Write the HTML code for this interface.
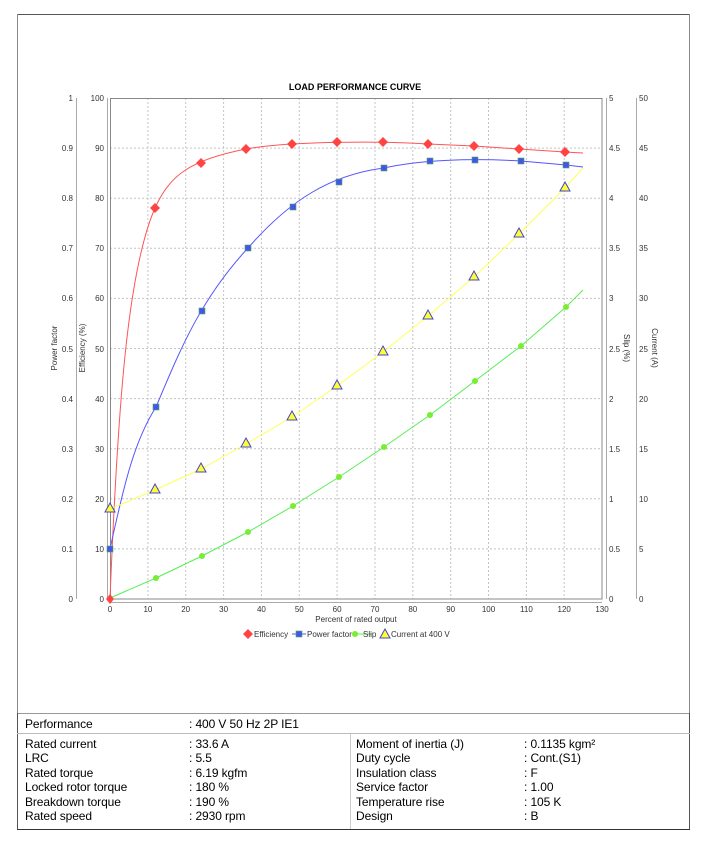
<!DOCTYPE html>
<html><head><meta charset="utf-8"><style>
html,body{margin:0;padding:0;background:#fff;}
body{width:706px;height:845px;position:relative;overflow:hidden;font-family:"Liberation Sans",Arial,sans-serif;}
.t{position:absolute;font-size:12px;color:#000;white-space:nowrap;letter-spacing:-0.1px;}
</style></head><body>
<svg width="706" height="845" style="position:absolute;left:0;top:0" font-family="Liberation Sans, Arial, sans-serif">
<line x1="17.5" y1="14.5" x2="689.5" y2="14.5" stroke="#555" stroke-width="1"/>
<line x1="17.5" y1="14" x2="17.5" y2="713" stroke="#888" stroke-width="1"/>
<line x1="689.5" y1="14" x2="689.5" y2="713" stroke="#888" stroke-width="1"/>
<text x="355" y="90" font-size="9" font-weight="bold" text-anchor="middle">LOAD PERFORMANCE CURVE</text>
<g stroke="#c4c4c4" stroke-width="1" stroke-dasharray="2,2">
<line x1="147.9" y1="98" x2="147.9" y2="599"/><line x1="185.7" y1="98" x2="185.7" y2="599"/>
<line x1="223.6" y1="98" x2="223.6" y2="599"/><line x1="261.4" y1="98" x2="261.4" y2="599"/>
<line x1="299.3" y1="98" x2="299.3" y2="599"/><line x1="337.1" y1="98" x2="337.1" y2="599"/>
<line x1="375" y1="98" x2="375" y2="599"/><line x1="412.8" y1="98" x2="412.8" y2="599"/>
<line x1="450.7" y1="98" x2="450.7" y2="599"/><line x1="488.5" y1="98" x2="488.5" y2="599"/>
<line x1="526.4" y1="98" x2="526.4" y2="599"/><line x1="564.2" y1="98" x2="564.2" y2="599"/>
<line x1="110" y1="148.1" x2="602" y2="148.1"/><line x1="110" y1="198.2" x2="602" y2="198.2"/>
<line x1="110" y1="248.3" x2="602" y2="248.3"/><line x1="110" y1="298.4" x2="602" y2="298.4"/>
<line x1="110" y1="348.5" x2="602" y2="348.5"/><line x1="110" y1="398.6" x2="602" y2="398.6"/>
<line x1="110" y1="448.7" x2="602" y2="448.7"/><line x1="110" y1="498.8" x2="602" y2="498.8"/>
<line x1="110" y1="548.9" x2="602" y2="548.9"/>
</g>
<rect x="110.5" y="98.5" width="491.5" height="500.5" fill="none" stroke="#888" stroke-width="1"/>
<g stroke="#aaa" stroke-width="1">
<line x1="76.5" y1="98" x2="76.5" y2="599"/><line x1="107.5" y1="98" x2="107.5" y2="599"/>
<line x1="606.5" y1="98" x2="606.5" y2="599"/><line x1="636.5" y1="98" x2="636.5" y2="599"/>
<line x1="110" y1="602.5" x2="602" y2="602.5"/>
</g>
<g font-size="8" fill="#333" text-anchor="end">
<text x="73" y="101">1</text><text x="73" y="151">0.9</text><text x="73" y="201">0.8</text><text x="73" y="251">0.7</text><text x="73" y="301">0.6</text><text x="73" y="352">0.5</text><text x="73" y="402">0.4</text><text x="73" y="452">0.3</text><text x="73" y="502">0.2</text><text x="73" y="552">0.1</text><text x="73" y="602">0</text>
<text x="104" y="101">100</text><text x="104" y="151">90</text><text x="104" y="201">80</text><text x="104" y="251">70</text><text x="104" y="301">60</text><text x="104" y="352">50</text><text x="104" y="402">40</text><text x="104" y="452">30</text><text x="104" y="502">20</text><text x="104" y="552">10</text><text x="104" y="602">0</text>
</g>
<g font-size="8" fill="#333" text-anchor="start">
<text x="609" y="101">5</text><text x="609" y="151">4.5</text><text x="609" y="201">4</text><text x="609" y="251">3.5</text><text x="609" y="301">3</text><text x="609" y="352">2.5</text><text x="609" y="402">2</text><text x="609" y="452">1.5</text><text x="609" y="502">1</text><text x="609" y="552">0.5</text><text x="609" y="602">0</text>
<text x="639" y="101">50</text><text x="639" y="151">45</text><text x="639" y="201">40</text><text x="639" y="251">35</text><text x="639" y="301">30</text><text x="639" y="352">25</text><text x="639" y="402">20</text><text x="639" y="452">15</text><text x="639" y="502">10</text><text x="639" y="552">5</text><text x="639" y="602">0</text>
</g>
<g font-size="8" fill="#333" text-anchor="middle">
<text x="110" y="612">0</text><text x="147.9" y="612">10</text><text x="185.7" y="612">20</text><text x="223.6" y="612">30</text><text x="261.4" y="612">40</text><text x="299.3" y="612">50</text><text x="337.1" y="612">60</text><text x="375" y="612">70</text><text x="412.8" y="612">80</text><text x="450.7" y="612">90</text><text x="488.5" y="612">100</text><text x="526.4" y="612">110</text><text x="564.2" y="612">120</text><text x="602" y="612">130</text>
<text x="356" y="622">Percent of rated output</text>
</g>
<g font-size="8" fill="#333" text-anchor="middle">
<text transform="translate(57,348) rotate(-90)">Power factor</text>
<text transform="translate(85,348) rotate(-90)">Efficiency (%)</text>
<text transform="translate(624,348) rotate(90)">Slip (%)</text>
<text transform="translate(652,348) rotate(90)">Current (A)</text>
</g>
<path fill="none" stroke="#f55" stroke-width="1" d="M110,599 C118,400 128,270 155,208 C170,175 190,160 246,149 C290,141 380,141 428,144 L474,146 519,149 565,152 583,153"/>
<path fill="none" stroke="#55f" stroke-width="1" d="M110,549 C125,480 135,440 156,407 C180,350 200,300 248,248 C290,200 330,175 384,168 C420,160 470,158 521,161 L566,165 583,167"/>
<polyline fill="none" stroke="#5e5" stroke-width="1" points="110,598 156,578 202,556 248,532 293,506 339,477 384,447 430,415 475,381 521,346 566,307 583,290"/>
<polyline fill="none" stroke="#ff5" stroke-width="1" points="110,509 155,490 201,469 246,444 292,417 337,386 383,352 428,316 474,277 519,234 565,188 583,168"/>
<g fill="#f44">
<path d="M110,594 l4,5 -4,5 -4,-5z"/>
<path d="M155,203 l5,5 -5,5 -5,-5z"/><path d="M201,158 l5,5 -5,5 -5,-5z"/><path d="M246,144 l5,5 -5,5 -5,-5z"/><path d="M292,139 l5,5 -5,5 -5,-5z"/><path d="M337,137 l5,5 -5,5 -5,-5z"/><path d="M383,137 l5,5 -5,5 -5,-5z"/><path d="M428,139 l5,5 -5,5 -5,-5z"/><path d="M474,141 l5,5 -5,5 -5,-5z"/><path d="M519,144 l5,5 -5,5 -5,-5z"/><path d="M565,147 l5,5 -5,5 -5,-5z"/>
</g>
<g fill="#45e" stroke="#5a5" stroke-width="0.6">
<rect x="107" y="546" width="6" height="6"/><rect x="153" y="404" width="6" height="6"/><rect x="199" y="308" width="6" height="6"/><rect x="245" y="245" width="6" height="6"/><rect x="290" y="204" width="6" height="6"/><rect x="336" y="179" width="6" height="6"/><rect x="381" y="165" width="6" height="6"/><rect x="427" y="158" width="6" height="6"/><rect x="472" y="157" width="6" height="6"/><rect x="518" y="158" width="6" height="6"/><rect x="563" y="162" width="6" height="6"/>
</g>
<g fill="#7e3">
<circle cx="156" cy="578" r="3"/><circle cx="202" cy="556" r="3"/><circle cx="248" cy="532" r="3"/><circle cx="293" cy="506" r="3"/><circle cx="339" cy="477" r="3"/><circle cx="384" cy="447" r="3"/><circle cx="430" cy="415" r="3"/><circle cx="475" cy="381" r="3"/><circle cx="521" cy="346" r="3"/><circle cx="566" cy="307" r="3"/>
</g>
<g fill="#ff3" stroke="#44c" stroke-width="1">
<path d="M110,503 l5,9 h-10z"/><path d="M155,484 l5,9 h-10z"/><path d="M201,463 l5,9 h-10z"/><path d="M246,438 l5,9 h-10z"/><path d="M292,411 l5,9 h-10z"/><path d="M337,380 l5,9 h-10z"/><path d="M383,346 l5,9 h-10z"/><path d="M428,310 l5,9 h-10z"/><path d="M474,271 l5,9 h-10z"/><path d="M519,228 l5,9 h-10z"/><path d="M565,182 l5,9 h-10z"/>
</g>
<g font-size="8" fill="#333">
<path d="M248,629 l5,5 -5,5 -5,-5z" fill="#f44"/><text x="254" y="637">Efficiency</text>
<line x1="292" y1="634" x2="306" y2="634" stroke="#55f"/><rect x="296" y="631" width="6" height="6" fill="#45e" stroke="#5a5" stroke-width="0.6"/><text x="307" y="637">Power factor</text>
<line x1="352" y1="634" x2="372" y2="634" stroke="#5e5"/><circle cx="355" cy="634" r="3" fill="#7e3"/><text x="363" y="637">Slip</text>
<path d="M385,629 l5,9 h-10z" fill="#ff3" stroke="#44c"/><text x="391" y="637">Current at 400 V</text>
</g>
<line x1="17" y1="713.5" x2="690" y2="713.5" stroke="#999"/>
<line x1="17.5" y1="713" x2="17.5" y2="830" stroke="#555"/>
<line x1="689.5" y1="713" x2="689.5" y2="830" stroke="#555"/>
<line x1="17" y1="733.5" x2="690" y2="733.5" stroke="#bbb"/>
<line x1="350.5" y1="734" x2="350.5" y2="829" stroke="#ccc"/>
<line x1="17" y1="829.5" x2="690" y2="829.5" stroke="#333"/>
</svg>
<div class="t" style="left:25px;top:717px">Performance</div>
<div class="t" style="left:189px;top:717px">: 400 V 50 Hz 2P IE1</div>
<div class="t" style="left:25px;top:737px;line-height:14.4px">Rated current<br>LRC<br>Rated torque<br>Locked rotor torque<br>Breakdown torque<br>Rated speed</div>
<div class="t" style="left:189px;top:737px;line-height:14.4px">: 33.6 A<br>: 5.5<br>: 6.19 kgfm<br>: 180 %<br>: 190 %<br>: 2930 rpm</div>
<div class="t" style="left:356px;top:737px;line-height:14.4px">Moment of inertia (J)<br>Duty cycle<br>Insulation class<br>Service factor<br>Temperature rise<br>Design</div>
<div class="t" style="left:524px;top:737px;line-height:14.4px">: 0.1135 kgm²<br>: Cont.(S1)<br>: F<br>: 1.00<br>: 105 K<br>: B</div>
</body></html>
